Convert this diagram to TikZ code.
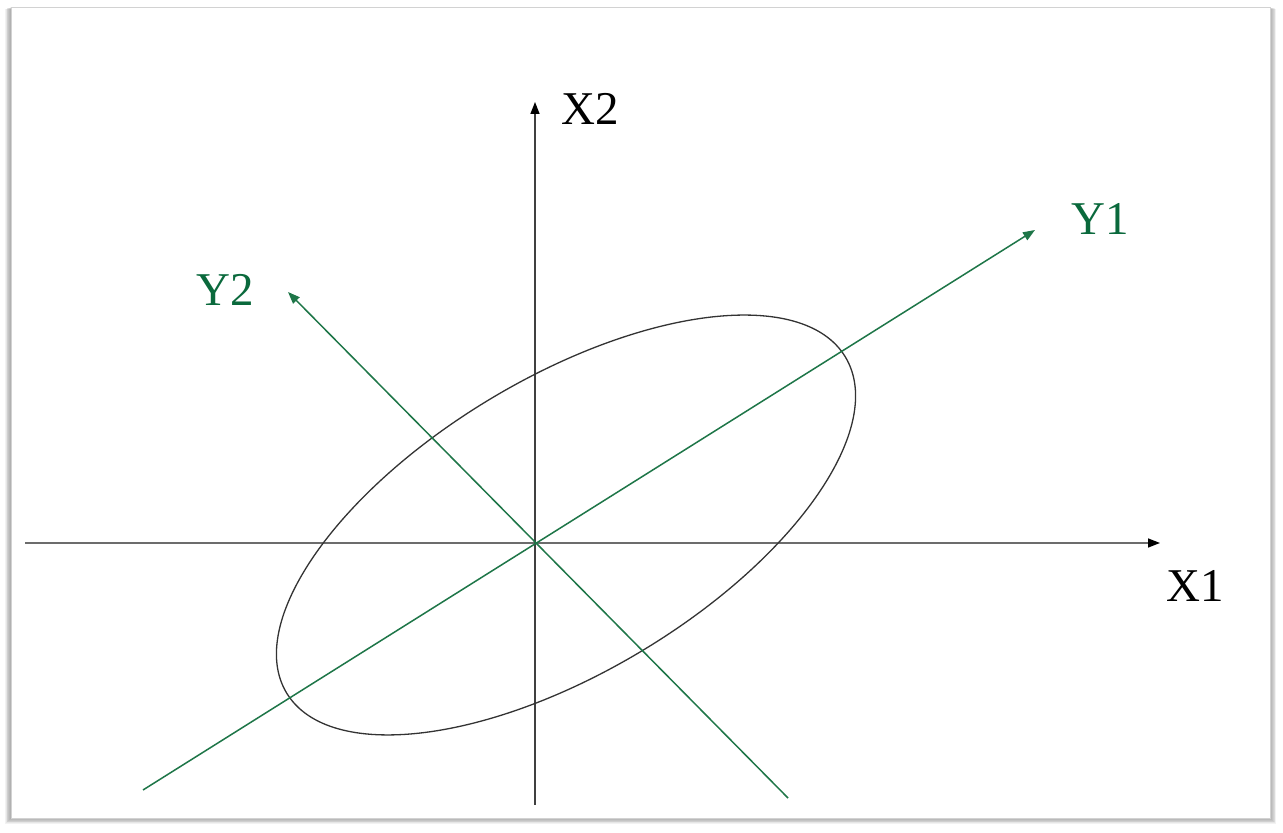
\documentclass[tikz,border=0pt]{standalone}
\usepackage{fontspec}
\setmainfont{Liberation Serif}
\usetikzlibrary{arrows.meta}
\definecolor{axgreen}{RGB}{30,118,72}
\definecolor{txgreen}{RGB}{10,105,60}
\tikzset{
  blackaxis/.style={line width=1.5pt,-{Triangle[length=12pt,width=9pt,color=black]}},
  greenaxis/.style={line width=1.5pt,draw=axgreen,-{Triangle[length=12pt,width=9pt,color=axgreen]}},
  lbl/.style={anchor=base west,inner sep=0pt,font=\fontsize{47}{54}\selectfont},
}
\begin{document}
\begin{tikzpicture}[x=1pt,y=1pt]
\useasboundingbox (0,0) rectangle (1283,833);
% shadow
\foreach \i in {1,...,7}{
  \fill[black,opacity=0.05] (11-\i*0.9,15-\i*0.9) rectangle (1270+\i*0.9,826-\i*0.3);
}
\fill[white] (11,15) rectangle (1270,826);
\draw[gray!35,line width=0.8pt] (11,15) rectangle (1270,826);
% axes
\coordinate (x1s) at (25,290);
\coordinate (x1e) at (1160,290);
\coordinate (x2s) at (535,28);
\coordinate (x2e) at (535,731);
\coordinate (y1s) at (143,43);
\coordinate (y1e) at (1035,603);
\coordinate (y2s) at (788,35);
\coordinate (y2e) at (288,541);
\draw[blackaxis,draw=gray!85!black] (x1s) -- (x1e);
\draw[blackaxis,draw=black!75] (x2s) -- (x2e);
% ellipse
\draw[black!80,line width=1.3pt] (566,308) ellipse[x radius=326,y radius=147,rotate=31];
% green axes
\draw[greenaxis] (y1s) -- (y1e);
\draw[greenaxis] (y2s) -- (y2e);
% labels
\node[lbl] (lx2) at (561,708) {X2};
\node[lbl] (lx1) at (1166,231) {X1};
\node[lbl,text=txgreen] (ly1) at (1071,598) {Y1};
\node[lbl,text=txgreen] (ly2) at (196,527) {Y2};
\end{tikzpicture}
\end{document}
